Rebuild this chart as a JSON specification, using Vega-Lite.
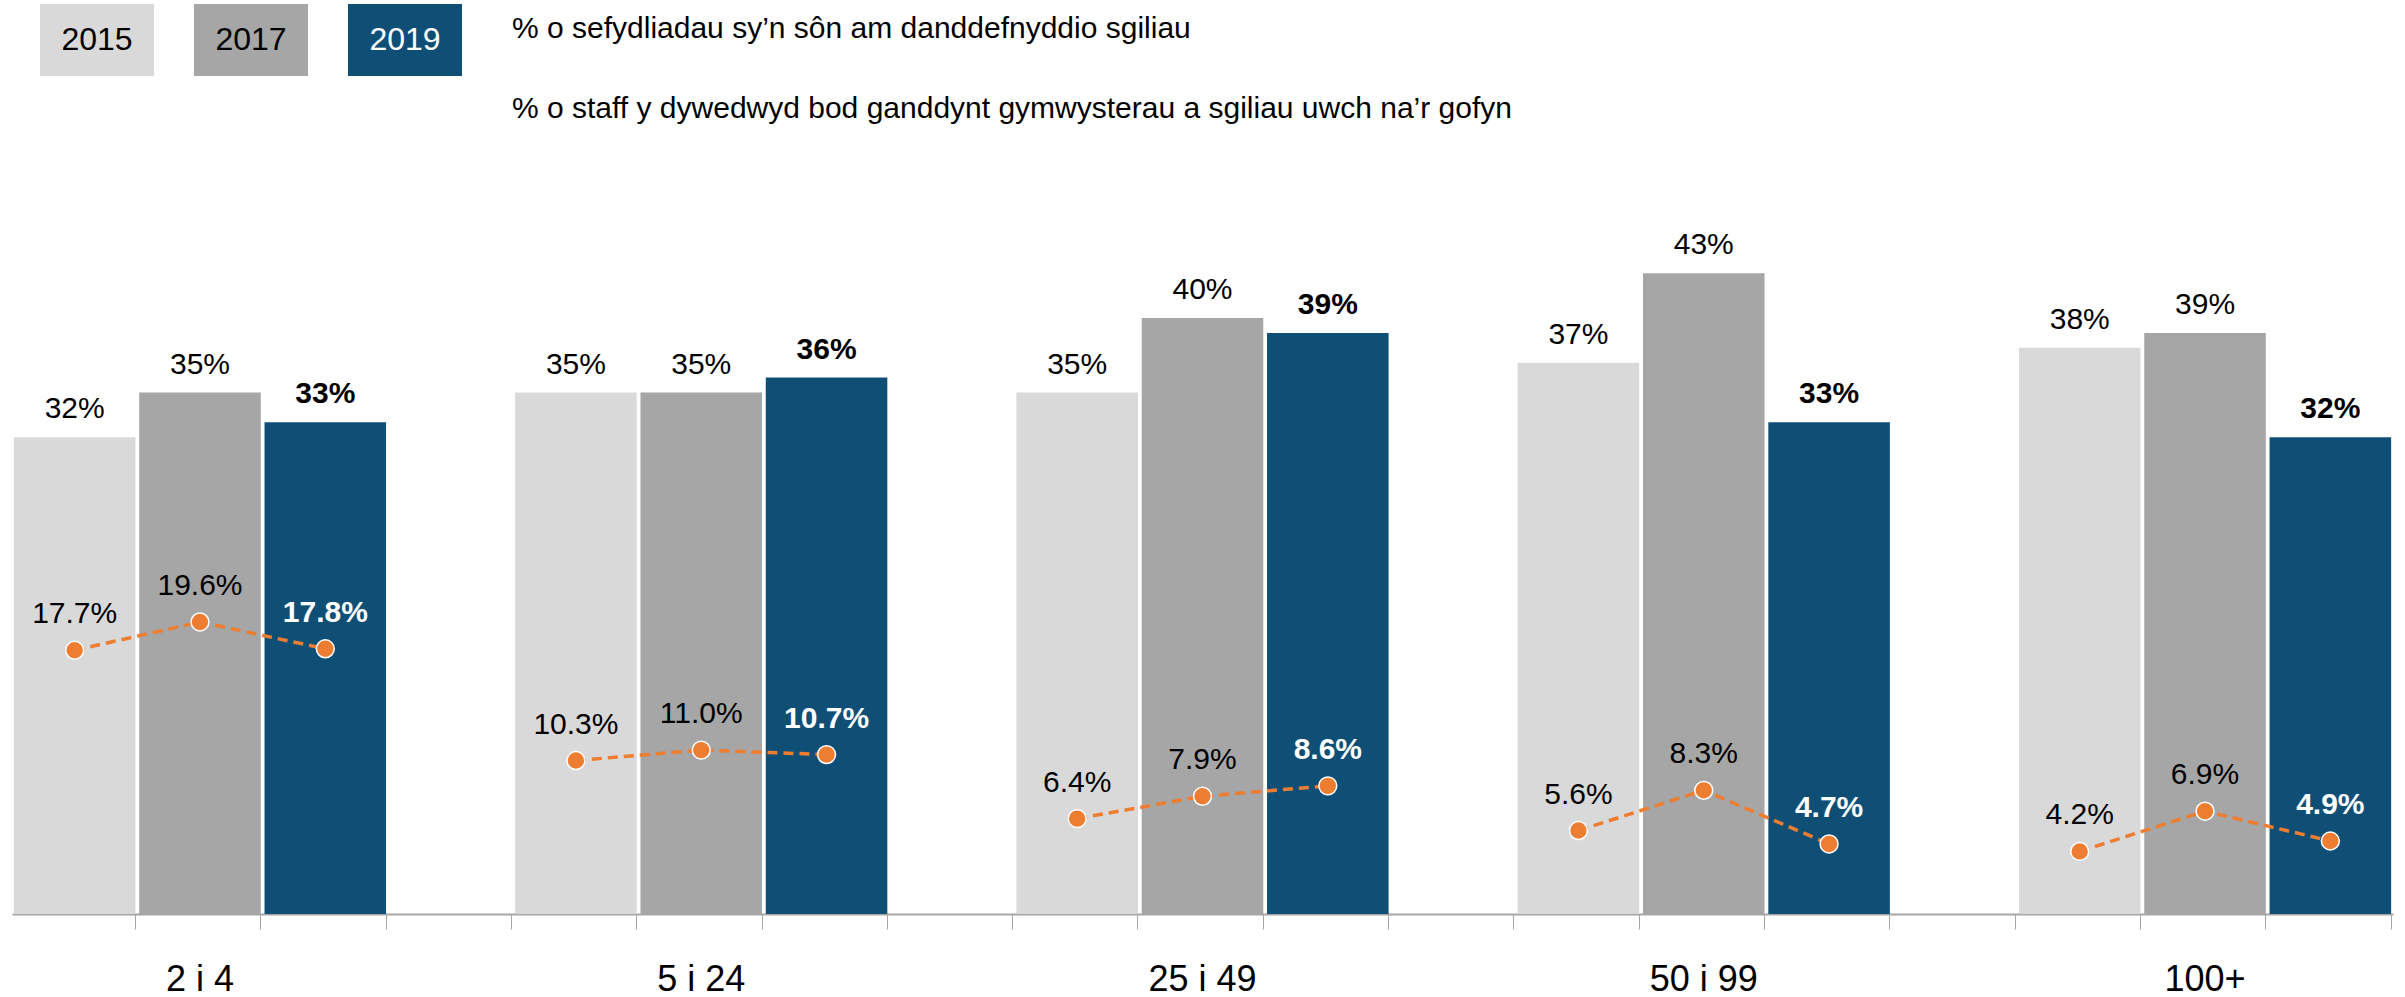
{
  "$schema": "https://vega.github.io/schema/vega-lite/v6.json",
  "width": 2381,
  "height": 745,
  "padding": {"left": 12, "top": 4, "right": 12, "bottom": 0},
  "background": "white",
  "config": {
    "font": "Liberation Sans",
    "view": {"stroke": null},
    "text": {"font": "Liberation Sans"}
  },
  "title": {
    "text": "% o sefydliadau sy’n sôn am danddefnyddio sgiliau",
    "subtitle": "% o staff y dywedwyd bod ganddynt gymwysterau a sgiliau uwch na’r gofyn",
    "anchor": "start",
    "frame": "group",
    "dx": 500,
    "dy": 120,
    "offset": 0,
    "font": "Liberation Sans",
    "subtitleFont": "Liberation Sans",
    "fontSize": 30,
    "subtitleFontSize": 30,
    "fontWeight": "normal",
    "subtitleFontWeight": "normal",
    "color": "#000000",
    "subtitleColor": "#000000",
    "subtitlePadding": 50
  },
  "data": {
    "values": [
      {"group": "2 i 4", "year": "2015", "slot": "2 i 4|2015", "bar": 0.32, "staff": 0.177},
      {"group": "2 i 4", "year": "2017", "slot": "2 i 4|2017", "bar": 0.35, "staff": 0.196},
      {"group": "2 i 4", "year": "2019", "slot": "2 i 4|2019", "bar": 0.33, "staff": 0.178},
      {"group": "5 i 24", "year": "2015", "slot": "5 i 24|2015", "bar": 0.35, "staff": 0.103},
      {"group": "5 i 24", "year": "2017", "slot": "5 i 24|2017", "bar": 0.35, "staff": 0.110},
      {"group": "5 i 24", "year": "2019", "slot": "5 i 24|2019", "bar": 0.36, "staff": 0.107},
      {"group": "25 i 49", "year": "2015", "slot": "25 i 49|2015", "bar": 0.35, "staff": 0.064},
      {"group": "25 i 49", "year": "2017", "slot": "25 i 49|2017", "bar": 0.40, "staff": 0.079},
      {"group": "25 i 49", "year": "2019", "slot": "25 i 49|2019", "bar": 0.39, "staff": 0.086},
      {"group": "50 i 99", "year": "2015", "slot": "50 i 99|2015", "bar": 0.37, "staff": 0.056},
      {"group": "50 i 99", "year": "2017", "slot": "50 i 99|2017", "bar": 0.43, "staff": 0.083},
      {"group": "50 i 99", "year": "2019", "slot": "50 i 99|2019", "bar": 0.33, "staff": 0.047},
      {"group": "100+", "year": "2015", "slot": "100+|2015", "bar": 0.38, "staff": 0.042},
      {"group": "100+", "year": "2017", "slot": "100+|2017", "bar": 0.39, "staff": 0.069},
      {"group": "100+", "year": "2019", "slot": "100+|2019", "bar": 0.32, "staff": 0.049}
    ]
  },
  "encoding": {
    "x": {
      "field": "slot",
      "type": "nominal",
      "scale": {
        "domain": ["2 i 4|2015", "2 i 4|2017", "2 i 4|2019", "gap1",
                   "5 i 24|2015", "5 i 24|2017", "5 i 24|2019", "gap2",
                   "25 i 49|2015", "25 i 49|2017", "25 i 49|2019", "gap3",
                   "50 i 99|2015", "50 i 99|2017", "50 i 99|2019", "gap4",
                   "100+|2015", "100+|2017", "100+|2019"],
        "paddingInner": 0.03,
        "paddingOuter": 0.015
      },
      "axis": {
        "title": null,
        "grid": false,
        "labelAngle": 0,
        "labelExpr": "indexof(datum.value, '|2017') > 0 ? split(datum.value, '|')[0] : ''",
        "labelFontSize": 36,
        "labelFont": "Liberation Sans",
        "labelColor": "#000000",
        "labelBaseline": "alphabetic",
        "labelPadding": 61,
        "domainColor": "#A6A6A6",
        "domainWidth": 2,
        "tickColor": "#A6A6A6",
        "tickWidth": 1,
        "tickSize": 15,
        "bandPosition": 1
      }
    }
  },
  "layer": [
    {
      "mark": {"type": "bar"},
      "encoding": {
        "y": {"field": "bar", "type": "quantitative", "scale": {"domain": [0, 0.5], "nice": false}, "axis": null},
        "color": {
          "field": "year",
          "type": "nominal",
          "scale": {"domain": ["2015", "2017", "2019"], "range": ["#D9D9D9", "#A6A6A6", "#104F75"]},
          "legend": {
            "title": null,
            "orient": "none",
            "legendX": 49,
            "legendY": -165,
            "direction": "horizontal",
            "symbolType": "M-1.5833,-1H1.5833V1H-1.5833Z",
            "symbolSize": 5184,
            "symbolStrokeWidth": 0,
            "symbolOpacity": 1,
            "columnPadding": 40,
            "labelAlign": "center",
            "labelOffset": -36,
            "labelFontSize": 32,
            "labelFont": "Liberation Sans",
            "labelColor": "#000000",
            "padding": 0,
            "encode": {
              "labels": {"update": {"fill": {"signal": "datum.label === '2019' ? '#ffffff' : '#000000'"}}}
            }
          }
        }
      }
    },
    {
      "transform": [{"filter": "datum.year !== '2019'"}],
      "mark": {"type": "text", "fontSize": 30, "baseline": "alphabetic", "dy": -19, "color": "#000000"},
      "encoding": {
        "y": {"field": "bar", "type": "quantitative"},
        "text": {"field": "bar", "type": "quantitative", "format": ".0%"}
      }
    },
    {
      "transform": [{"filter": "datum.year === '2019'"}],
      "mark": {"type": "text", "fontSize": 30, "fontWeight": "bold", "baseline": "alphabetic", "dy": -19, "color": "#000000"},
      "encoding": {
        "y": {"field": "bar", "type": "quantitative"},
        "text": {"field": "bar", "type": "quantitative", "format": ".0%"}
      }
    },
    {
      "mark": {"type": "line", "color": "#ED7D31", "strokeWidth": 3.5, "strokeDash": [10, 6]},
      "encoding": {
        "y": {"field": "staff", "type": "quantitative"},
        "detail": {"field": "group", "type": "nominal"}
      }
    },
    {
      "mark": {"type": "point", "shape": "circle", "filled": true, "size": 320, "fill": "#ED7D31", "stroke": "#ffffff", "strokeWidth": 1.5, "opacity": 1},
      "encoding": {
        "y": {"field": "staff", "type": "quantitative"}
      }
    },
    {
      "transform": [{"filter": "datum.year !== '2019'"}],
      "mark": {"type": "text", "fontSize": 30, "baseline": "alphabetic", "dy": -27, "color": "#000000"},
      "encoding": {
        "y": {"field": "staff", "type": "quantitative"},
        "text": {"field": "staff", "type": "quantitative", "format": ".1%"}
      }
    },
    {
      "transform": [{"filter": "datum.year === '2019'"}],
      "mark": {"type": "text", "fontSize": 30, "fontWeight": "bold", "baseline": "alphabetic", "dy": -27, "color": "#ffffff"},
      "encoding": {
        "y": {"field": "staff", "type": "quantitative"},
        "text": {"field": "staff", "type": "quantitative", "format": ".1%"}
      }
    }
  ]
}
